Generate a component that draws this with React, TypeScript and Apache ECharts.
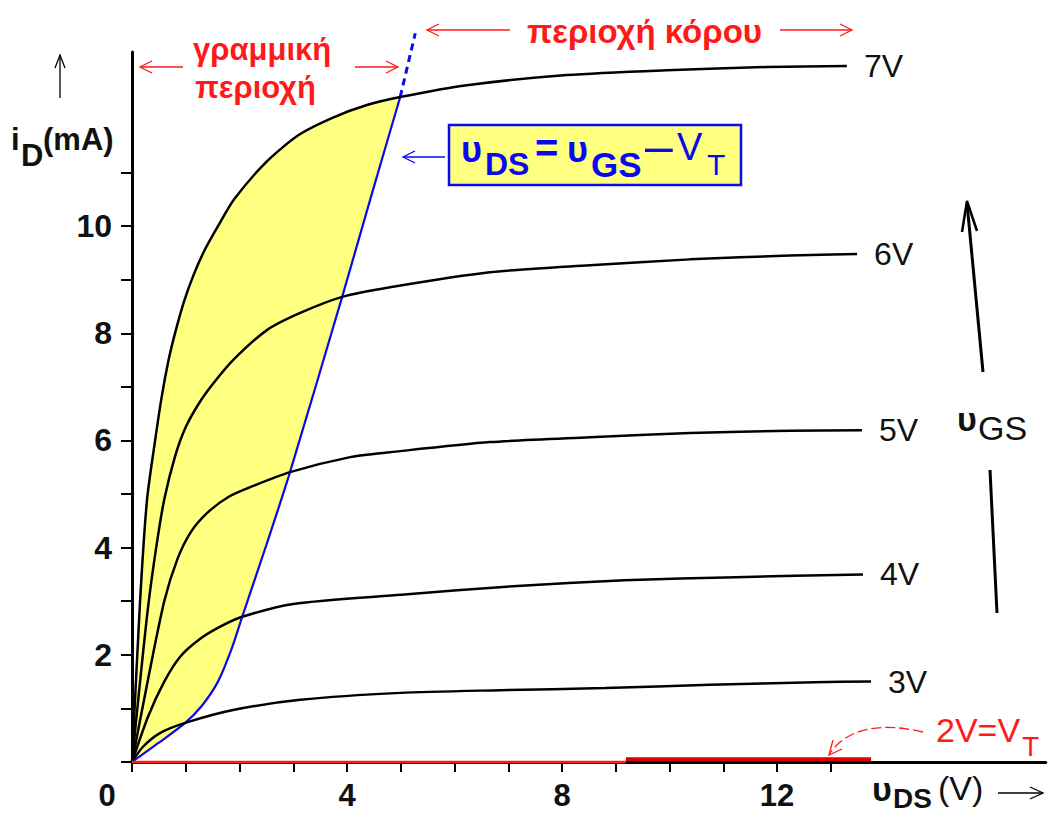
import React, { useEffect, useRef } from 'react';
import * as echarts from 'echarts';

// ---------- data ----------
const X_TICKS = [0, 1, 2, 3, 4, 5, 6, 7, 8, 9, 10, 11, 12, 13];
const Y_TICKS = [0, 1, 2, 3, 4, 5, 6, 7, 8, 9, 10, 11];
const X_LABELS = [0, 4, 8, 12];
const Y_LABELS = [2, 4, 6, 8, 10];

const CURVE_NAMES = ['7V', '6V', '5V', '4V', '3V'];

const V7: number[][] = [
  [0, 0], [0.15, 3.0], [0.28, 4.9], [0.43, 6.0], [0.55, 6.8], [0.68, 7.5], [0.8, 8.0],
  [0.97, 8.6], [1.15, 9.1], [1.35, 9.55], [1.6, 10.0], [1.9, 10.5], [2.5, 11.2], [3.1, 11.7],
  [3.75, 12.03], [4.37, 12.26], [4.99, 12.41], [6.23, 12.63], [8.09, 12.82], [9.95, 12.91],
  [11.81, 12.97], [13.3, 12.99],
];
const V6: number[][] = [
  [0, 0], [0.15, 1.5], [0.3, 2.9], [0.45, 4.0], [0.6, 4.9], [0.8, 5.7], [1.0, 6.25],
  [1.25, 6.7], [1.5, 7.05], [1.88, 7.5], [2.51, 8.06], [3.13, 8.38], [3.91, 8.68],
  [4.8, 8.86], [6.66, 9.14], [8.52, 9.27], [10.38, 9.38], [12.24, 9.45], [13.49, 9.48],
];
const V5: number[][] = [
  [0, 0], [0.3, 1.55], [0.6, 3.0], [0.85, 3.8], [1.1, 4.3], [1.4, 4.65], [1.8, 4.95],
  [2.2, 5.13], [2.94, 5.41], [4.06, 5.69], [4.8, 5.78], [6.66, 5.97], [8.52, 6.06],
  [10.38, 6.14], [12.24, 6.18], [13.58, 6.19],
];
const V4: number[][] = [
  [0, 0], [0.3, 0.85], [0.6, 1.5], [0.9, 1.97], [1.27, 2.3], [1.65, 2.53], [2.05, 2.71],
  [3.0, 2.95], [5.01, 3.12], [7.09, 3.28], [9.16, 3.39], [11.24, 3.45], [13.6, 3.5],
];
const V3: number[][] = [
  [0, 0], [0.2, 0.28], [0.52, 0.54], [0.99, 0.73], [1.88, 0.97], [3.13, 1.16], [4.99, 1.29],
  [6.85, 1.34], [8.8, 1.38], [10.75, 1.44], [12.7, 1.49], [13.75, 1.5],
];
const CURVES = [V7, V6, V5, V4, V3];

// saturation boundary u_DS = u_GS - V_T
const BOUNDARY: number[][] = [
  [0, 0], [0.5, 0.36], [0.99, 0.73], [1.3, 1.05], [1.6, 1.5], [1.85, 2.1], [2.05, 2.71],
  [2.5, 4.05], [2.94, 5.41], [3.91, 8.68], [4.43, 10.49], [4.99, 12.41],
];
const BOUNDARY_EXT: number[][] = [[4.99, 12.41], [5.27, 13.6]];

// 2V = V_T curve (i_D = 0)
const VT_THIN: number[][] = [[0, 0], [9.19, 0]];
const VT_THICK: number[][] = [[9.19, 0.05], [13.75, 0.05]];

// ---------- styles ----------
const FONT = 'Liberation Sans, Arial, sans-serif';
const RED = '#ff1a1a';
const BLUE = '#0a0aee';

function arrow(x1: number, y1: number, x2: number, y2: number, color: string, width: number, head = 12, spread = 6, headWidth?: number) {
  const dx = x2 - x1, dy = y2 - y1;
  const len = Math.hypot(dx, dy);
  const ux = dx / len, uy = dy / len;
  const bx = x2 - ux * head, by = y2 - uy * head;
  const px = -uy * spread, py = ux * spread;
  return [
    { type: 'line', shape: { x1, y1, x2, y2 }, style: { stroke: color, lineWidth: width } },
    {
      type: 'polyline',
      shape: { points: [[bx + px, by + py], [x2, y2], [bx - px, by - py]] },
      style: { stroke: color, lineWidth: headWidth ?? width, fill: 'none' },
    },
  ];
}

function txt(text: string, x: number, y: number, size: number, color: string, weight: string = 'normal', align: string = 'left') {
  return {
    type: 'text',
    x, y,
    style: { text, fontSize: size, fontWeight: weight, fill: color, fontFamily: FONT, align, verticalAlign: 'middle' },
  };
}

export default function App() {
  const ref = useRef<HTMLDivElement>(null);
  useEffect(() => {
    if (!ref.current) return;
    const chart = echarts.init(ref.current, undefined, { renderer: 'svg' });

    const curveSeries = CURVES.map((d, i) => ({
      type: 'line',
      name: CURVE_NAMES[i],
      data: d,
      showSymbol: false,
      smooth: 0.25,
      clip: false,
      z: 5,
      lineStyle: { color: '#000', width: 2.5 },
      endLabel: {
        show: true,
        formatter: CURVE_NAMES[i],
        distance: 17,
        color: '#111',
        fontSize: 32,
        fontFamily: FONT,
      },
    }));

    const option: any = {
      animation: false,
      backgroundColor: '#fff',
      grid: { left: 132, right: 3.25, top: 52, bottom: 52, containLabel: false },
      xAxis: {
        type: 'value',
        min: 0,
        max: 17,
        interval: 1,
        axisLine: { show: true, onZero: false, lineStyle: { color: '#000', width: 3 } },
        axisTick: { show: true, customValues: X_TICKS, length: 10, lineStyle: { color: '#000', width: 2 } },
        splitLine: { show: false },
        axisLabel: {
          customValues: X_LABELS,
          margin: 18,
          fontSize: 31,
          fontWeight: 'bold',
          fontFamily: FONT,
          color: '#111',
          formatter: (v: number) => (X_LABELS.includes(v) ? (v === 0 ? '{z|0}' : String(v)) : ''),
          rich: { z: { fontSize: 31, fontWeight: 'bold', fontFamily: FONT, color: '#111', padding: [0, 50, 0, 0] } },
        },
      },
      yAxis: {
        type: 'value',
        min: 0,
        max: 13.25,
        interval: 1,
        axisLine: { show: true, onZero: false, lineStyle: { color: '#000', width: 3 } },
        axisTick: { show: true, customValues: Y_TICKS, length: 11, lineStyle: { color: '#000', width: 2 } },
        splitLine: { show: false },
        axisLabel: {
          customValues: Y_LABELS,
          margin: 20,
          fontSize: 32,
          fontWeight: 'bold',
          fontFamily: FONT,
          color: '#111',
          formatter: (v: number) => (Y_LABELS.includes(v) ? String(v) : ''),
        },
      },
      series: [
        {
          type: 'custom',
          name: 'linear region',
          coordinateSystem: 'cartesian2d',
          data: [[0, 0]],
          clip: false,
          silent: true,
          z: 1,
          renderItem: (_p: any, api: any) => {
            const upper = V7.filter((p) => p[0] <= 4.99);
            const pts = [...upper, ...BOUNDARY.slice().reverse()].map((p) => api.coord(p));
            return { type: 'polygon', shape: { points: pts, smooth: 0.2 }, style: { fill: '#ffff80', stroke: 'none' } };
          },
        },
        {
          type: 'line',
          name: 'boundary',
          data: BOUNDARY,
          showSymbol: false,
          smooth: 0.25,
          clip: false,
          z: 4,
          lineStyle: { color: BLUE, width: 2.2 },
        },
        {
          type: 'line',
          name: 'boundary-ext',
          data: BOUNDARY_EXT,
          showSymbol: false,
          clip: false,
          z: 4,
          lineStyle: { color: BLUE, width: 3, type: [7, 5] },
        },
        {
          type: 'line',
          name: '2V',
          data: VT_THIN,
          showSymbol: false,
          clip: false,
          z: 6,
          lineStyle: { color: RED, width: 2.5 },
        },
        {
          type: 'line',
          name: '2V-thick',
          data: VT_THICK,
          showSymbol: false,
          clip: false,
          z: 6,
          lineStyle: { color: '#dd0000', width: 4 },
        },
        ...curveSeries,
      ],
      graphic: [
        // y axis title
        ...arrow(60, 98, 60, 55, '#000', 1.3, 13, 5),
        txt('i', 11, 139, 31, '#111', 'bold'),
        txt('D', 21, 155, 31, '#111', 'bold'),
        txt('(mA)', 43, 139, 31, '#111', 'bold'),
        // x axis title
        txt('υ', 872, 789, 34, '#111', 'bold'),
        txt('DS', 893, 798, 28, '#111', 'bold'),
        txt('(V)', 938, 788, 34, '#111', 'normal'),
        ...arrow(998, 793, 1043, 793, '#000', 1.3, 13, 6),
        // linear region
        txt('γραμμική', 193, 49, 31, RED, 'bold'),
        txt('περιοχή', 195, 87, 31, RED, 'bold'),
        ...arrow(183, 67, 140, 67, RED, 1.3, 12, 6),
        ...arrow(355, 67, 398, 67, RED, 1.3, 12, 6),
        // saturation region
        txt('περιοχή κόρου', 527, 31, 33, RED, 'bold'),
        ...arrow(510, 30, 427, 30, RED, 1.3, 12, 6),
        ...arrow(780, 30, 852, 30, RED, 1.3, 12, 6),
        // boundary formula box
        { type: 'rect', shape: { x: 449, y: 125, width: 292, height: 60 }, style: { fill: '#ffff80', stroke: BLUE, lineWidth: 2.5 } },
        txt('υ', 461, 149, 36, BLUE, 'bold'),
        txt('DS', 485, 164, 32, BLUE, 'bold'),
        txt('=', 535, 148, 40, BLUE, 'bold'),
        txt('υ', 567, 149, 36, BLUE, 'bold'),
        txt('GS', 591, 164, 35, BLUE, 'bold'),
        txt('–', 645, 146, 50, BLUE, 'normal'),
        txt('V', 677, 147, 38, BLUE, 'normal'),
        txt('T', 707, 164, 30, BLUE, 'normal'),
        ...arrow(445, 157, 403, 157, BLUE, 1.3, 12, 6),
        // u_GS arrow
        { type: 'line', shape: { x1: 983, y1: 372, x2: 967, y2: 203 }, style: { stroke: '#000', lineWidth: 3 } },
        { type: 'polyline', shape: { points: [[962, 232], [967, 201], [977, 231]] }, style: { stroke: '#000', lineWidth: 2.5, fill: 'none' } },
        txt('υ', 957, 419, 34, '#111', 'bold'),
        txt('GS', 978, 428, 34, '#111', 'normal'),
        { type: 'line', shape: { x1: 990, y1: 470, x2: 997, y2: 613 }, style: { stroke: '#000', lineWidth: 3 } },
        // V_T annotation
        txt('2V=V', 936, 730, 34, RED, 'normal'),
        txt('T', 1022, 746, 28, RED, 'normal'),
        { type: 'bezierCurve', shape: { x1: 923, y1: 732, cpx1: 880, cpy1: 722, cpx2: 848, cpy2: 728, x2: 830, y2: 753 }, style: { stroke: RED, lineWidth: 1.3, fill: 'none', lineDash: [10, 4] } },
        { type: 'polyline', shape: { points: [[833, 740], [829, 755], [842, 749]] }, style: { stroke: RED, lineWidth: 1.3, fill: 'none' } },
      ],
    };
    chart.setOption(option);
    return () => chart.dispose();
  }, []);
  return (
    <div
      ref={ref}
      style={{ position: 'fixed', left: 0, top: 0, width: 1049, height: 814, background: '#fff' }}
    />
  );
}
